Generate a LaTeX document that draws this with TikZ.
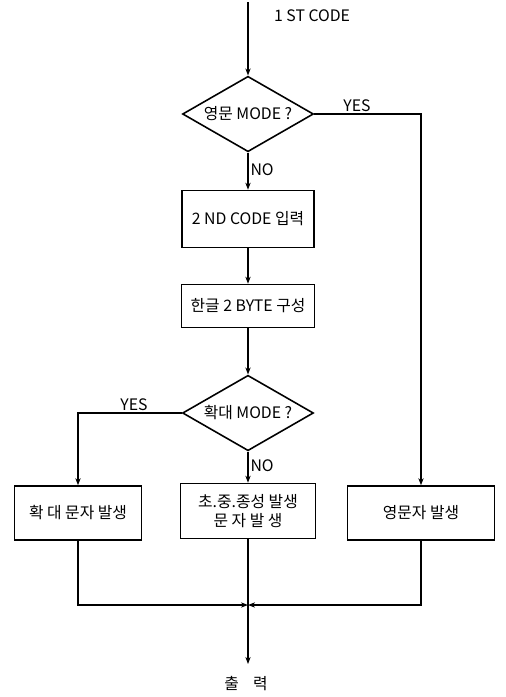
\documentclass[tikz,border=0pt]{standalone}
\usepackage{fontspec}
\setmainfont{Noto Sans CJK KR}
\usetikzlibrary{arrows.meta,shapes.geometric}

\begin{document}
\begin{tikzpicture}[
  x=0.02cm,
  y=-0.02cm,
  every node/.style={font=\fontsize{9}{11}\selectfont},
  flow/.style={line width=0.9pt, -{Stealth[length=4pt, width=3pt]}},
  line/.style={line width=0.9pt},
  process/.style={draw, line width=0.9pt, rectangle, inner sep=2pt,
                  align=center},
  decision/.style={draw, line width=0.9pt, diamond, inner sep=0pt,
                   shape aspect=1.74, minimum width=2.62cm, minimum height=1.51cm},
  tag/.style={inner sep=1pt}
]
  % ---- fixed frame, same size as the scan ----
  \path (0,0) rectangle (505,697);

  % ---- input and first test ----
  \coordinate (start) at (248,2);
  \node[tag, anchor=west] (firstcode) at (272,16) {1 ST CODE};
  \node[decision] (engmode) at (248,114) {영문 MODE ?};

  % ---- hangul path ----
  \node[process, minimum width=2.64cm, minimum height=1.14cm] (second) at (248,219) {2 ND CODE 입력};
  \node[process, minimum width=2.66cm, minimum height=0.86cm] (twobyte) at (248,306) {한글 2 BYTE 구성};
  \node[decision] (bigmode) at (248,413) {확대 MODE ?};

  % ---- character generators ----
  \node[process, minimum width=2.54cm, minimum height=1.08cm] (bigchar) at (78,513) {확 대 문자 발생};
  \node[process, minimum width=2.70cm, minimum height=1.10cm] (jamo) at (248,511) {초.중.종성 발생\\ 문 자 발 생};
  \node[process, minimum width=2.94cm, minimum height=1.08cm] (engchar) at (421,513) {영문자 발생};

  % ---- output ----
  \coordinate (join) at (248,605);
  \coordinate (outend) at (248,664);
  \node[tag] (output) at (246,684) {출\hspace{0.9em}력};

  % ---- connectors ----
  \draw[flow] (start) -- (engmode.north);
  \draw[flow] (engmode.south) -- node[tag, anchor=west, pos=0.45] {NO} (second.north);
  \draw[flow] (second.south) -- (twobyte.north);
  \draw[flow] (twobyte.south) -- (bigmode.north);
  \draw[flow] (engmode.east) -| node[tag, anchor=south, pos=0.2] {YES} (engchar.north);
  \draw[flow] (bigmode.west) -| node[tag, anchor=south, pos=0.23] {YES} (bigchar.north);
  \draw[flow] (bigmode.south) -- node[tag, anchor=west, pos=0.45] {NO} (jamo.north);

  \draw[flow] (bigchar.south) |- (join);
  \draw[flow] (engchar.south) |- (join);
  \draw[line] (jamo.south) -- (join);
  \draw[flow] (join) -- (outend);
\end{tikzpicture}
\end{document}
